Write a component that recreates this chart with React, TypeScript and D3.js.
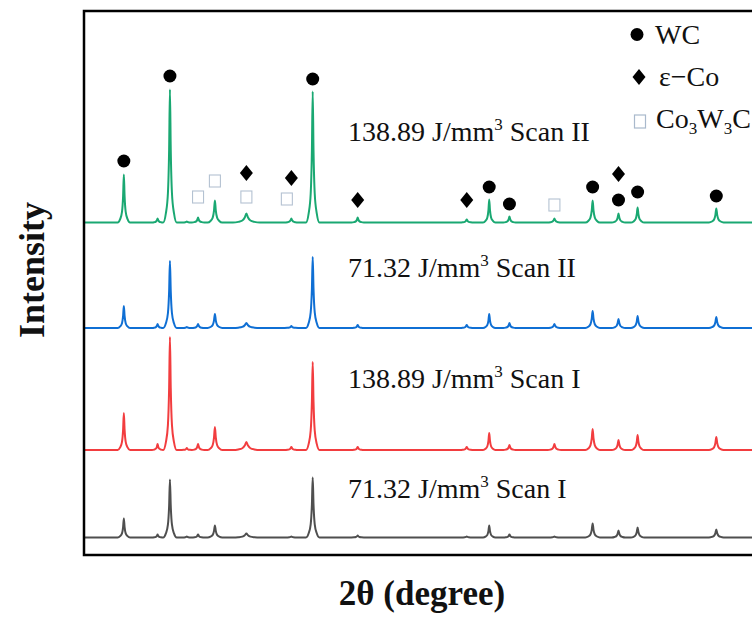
import React from "react";
import * as d3 from "d3";

// ---- data ----
const THETA_DOMAIN: [number, number] = [28, 90];
const INTENSITY_DOMAIN: [number, number] = [0, 544];

// 2θ positions of the diffraction peaks (degrees)
const PEAK_POS = [31.5, 34.5, 35.6, 37.1, 38.1, 39.6, 42.4, 46.4, 48.3, 52.3, 62.0, 64.0, 65.8, 69.8, 73.2, 75.5, 77.2, 84.2];
// half base width of each peak (degrees)
const PEAK_WIDTH = [0.55, 0.5, 0.6, 0.45, 0.55, 0.65, 1.2, 0.6, 0.6, 0.55, 0.6, 0.55, 0.55, 0.6, 0.65, 0.6, 0.6, 0.65];

// peak heights (a.u.) for each scan
const GREEN_HEIGHTS = [48, 4, 133, 1, 5, 22, 9, 4, 131, 5, 3, 23, 6, 4, 22, 9, 15, 14];
const BLUE_HEIGHTS = [22, 4, 67, 1, 4, 14, 5, 2, 71, 3, 3, 14, 5, 4, 17, 9, 12, 11];
const RED_HEIGHTS = [37, 6, 113, 2, 6, 23, 8, 3, 88, 3, 3, 17, 5, 6, 21, 10, 15, 13];
const GRAY_HEIGHTS = [19, 3, 58, 1, 3, 12, 4, 1, 60, 2, 1, 12, 3, 1, 14, 7, 10, 8];

const SERIES_ENERGY = ["138.89", "71.32", "138.89", "71.32"];
const SERIES_SCAN = ["Scan II", "Scan II", "Scan I", "Scan I"];
const SERIES_OFFSET = [332.5, 227, 105, 17.5];
const SERIES_COLOR = ["#1aa872", "#0f6fd4", "#f23d3f", "#4f4f4f"];
const SERIES_HEIGHTS = [GREEN_HEIGHTS, BLUE_HEIGHTS, RED_HEIGHTS, GRAY_HEIGHTS];
const SERIES_LABEL_LEVEL = [414, 278, 167, 57];

// peak shape: [fraction of half width, fraction of height]
const PROFILE: [number, number][] = [
  [-1, 0], [-0.6, 0.07], [-0.3, 0.22], [-0.12, 0.55], [0, 1],
  [0.12, 0.55], [0.3, 0.22], [0.6, 0.07], [1, 0],
];

// phase markers: [2θ, level]
const WC_MARKS: [number, number][] = [
  [31.5, 394], [35.6, 479], [48.3, 476], [64.0, 368], [65.8, 351],
  [73.2, 368], [75.5, 355], [77.2, 363], [84.2, 359],
];
const CO_MARKS: [number, number][] = [
  [42.4, 382], [46.4, 377], [52.3, 355], [62.0, 355], [75.5, 381],
];
const CWC_MARKS: [number, number][] = [
  [38.1, 358], [39.6, 374], [42.4, 358], [46.0, 356], [69.8, 350],
];

const LEGEND_LABELS = ["WC", "ε−Co", "Co3W3C"];

const W = 752;
const H = 619;
const FRAME = { left: 84, top: 11, bottom: 555 };

export default function App() {
  const x = d3.scaleLinear().domain(THETA_DOMAIN).range([84.5, 781.5]);
  const y = d3.scaleLinear().domain(INTENSITY_DOMAIN).range([FRAME.bottom, FRAME.top]);

  const line = d3
    .line<[number, number]>()
    .x((d) => x(d[0]))
    .y((d) => y(d[1]))
    .curve(d3.curveMonotoneX);

  const buildPoints = (heights: number[], offset: number): [number, number][] => {
    const pts: [number, number][] = [[THETA_DOMAIN[0], offset]];
    PEAK_POS.forEach((p, i) => {
      PROFILE.forEach(([fx, fy]) => {
        pts.push([p + fx * PEAK_WIDTH[i], offset + fy * heights[i]]);
      });
    });
    pts.push([THETA_DOMAIN[1], offset]);
    return pts;
  };

  const serif = "'Liberation Serif', 'Times New Roman', serif";
  const frameRight = x(THETA_DOMAIN[1]);

  return (
    <svg
      width={W}
      height={H}
      viewBox={`0 0 ${W} ${H}`}
      style={{ position: "absolute", left: 0, top: 0, display: "block", background: "#fff" }}
    >
      <defs>
        <clipPath id="plotclip">
          <rect x={FRAME.left} y={FRAME.top} width={frameRight - FRAME.left} height={FRAME.bottom - FRAME.top} />
        </clipPath>
      </defs>

      {/* traces */}
      <g clipPath="url(#plotclip)">
        {SERIES_HEIGHTS.map((h, i) => (
          <path
            key={i}
            d={line(buildPoints(h, SERIES_OFFSET[i])) || ""}
            fill="none"
            stroke={SERIES_COLOR[i]}
            strokeWidth={2}
            strokeLinejoin="round"
          />
        ))}
      </g>

      {/* frame */}
      <rect
        x={FRAME.left}
        y={FRAME.top}
        width={frameRight - FRAME.left}
        height={FRAME.bottom - FRAME.top}
        fill="none"
        stroke="#000"
        strokeWidth={2.5}
      />

      {/* series labels */}
      {SERIES_ENERGY.map((e, i) => (
        <text key={i} x={348} y={y(SERIES_LABEL_LEVEL[i])} fontFamily={serif} fontSize={28} fill="#111">
          {e} J/mm
          <tspan dy={-11} fontSize={17}>3</tspan>
          <tspan dy={11}>{"\u00a0" + SERIES_SCAN[i]}</tspan>
        </text>
      ))}

      {/* phase markers */}
      {WC_MARKS.map(([t, l], i) => (
        <circle key={"wc" + i} cx={x(t)} cy={y(l)} r={6.5} fill="#000" />
      ))}
      {CO_MARKS.map(([t, l], i) => (
        <path
          key={"co" + i}
          d={`M${x(t)},${y(l) - 8} L${x(t) + 6.5},${y(l)} L${x(t)},${y(l) + 8} L${x(t) - 6.5},${y(l)} Z`}
          fill="#000"
        />
      ))}
      {CWC_MARKS.map(([t, l], i) => (
        <rect
          key={"cwc" + i}
          x={x(t) - 5.5}
          y={y(l) - 6}
          width={11}
          height={12}
          fill="none"
          stroke="#b4c2d2"
          strokeWidth={1.1}
        />
      ))}

      {/* legend */}
      <circle cx={637} cy={34.5} r={6.5} fill="#000" />
      <text x={655} y={44} fontFamily={serif} fontSize={28} fill="#111">{LEGEND_LABELS[0]}</text>
      <path d="M639,69 L645.5,77 L639,85 L632.5,77 Z" fill="#000" />
      <text x={659} y={86} fontFamily={serif} fontSize={28} fill="#111">{LEGEND_LABELS[1]}</text>
      <rect x={634.5} y={115} width={11} height={13} fill="none" stroke="#a9b9cc" strokeWidth={1.2} />
      <text x={656} y={128} fontFamily={serif} fontSize={28} fill="#111">
        Co<tspan dy={6} fontSize={17}>3</tspan>
        <tspan dy={-6}>W</tspan>
        <tspan dy={6} fontSize={17}>3</tspan>
        <tspan dy={-6}>C</tspan>
      </text>

      {/* axis titles */}
      <text
        transform={`translate(44, 270) rotate(-90)`}
        textAnchor="middle"
        fontFamily={serif}
        fontWeight="bold"
        fontSize={36}
        fill="#111"
      >
        Intensity
      </text>
      <text x={422} y={605} textAnchor="middle" fontFamily={serif} fontWeight="bold" fontSize={35} fill="#111">
        2θ (degree)
      </text>
    </svg>
  );
}
